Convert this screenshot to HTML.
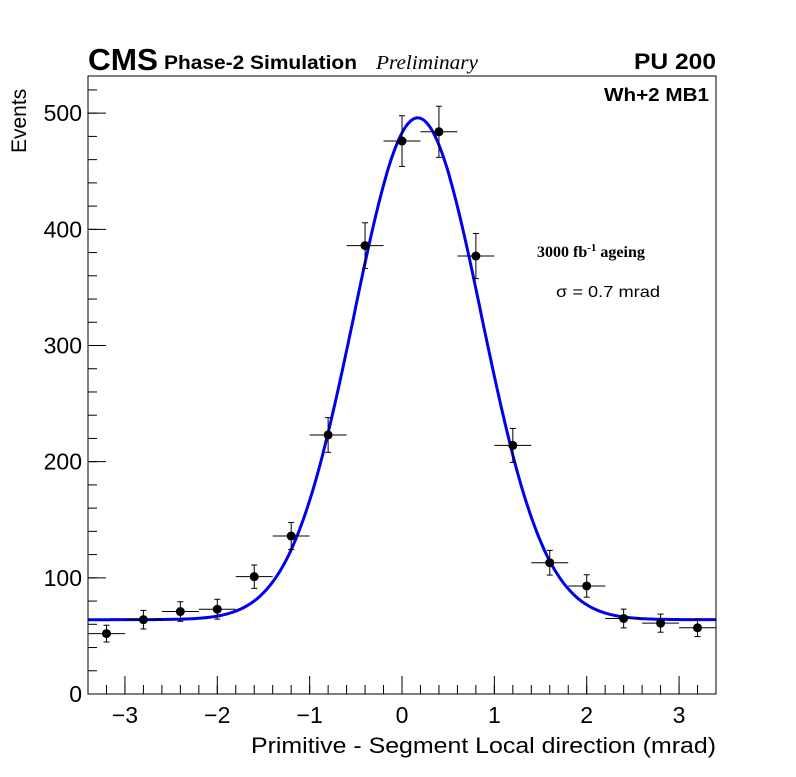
<!DOCTYPE html>
<html><head><meta charset="utf-8"><style>
body{margin:0;background:#fff}
svg text{font-family:"Liberation Sans",sans-serif}
</style></head><body>
<svg id="chart" width="796" height="772" viewBox="0 0 796 772" xmlns="http://www.w3.org/2000/svg">
<rect width="796" height="772" fill="#fff"/>
<g id="axes"></g>
<g id="marks"></g>
<rect x="88" y="76" width="628" height="618" fill="none" stroke="#000" stroke-width="1"/>
<text x="88" y="70" font-size="31" font-weight="bold" textLength="70" lengthAdjust="spacingAndGlyphs">CMS</text>
<text x="164" y="69" font-size="19" font-weight="bold" textLength="193" lengthAdjust="spacingAndGlyphs">Phase-2 Simulation</text>
<text x="376" y="69" font-size="20" font-style="italic" textLength="102" lengthAdjust="spacingAndGlyphs" style="font-family:'Liberation Serif',serif">Preliminary</text>
<text x="716" y="69" font-size="22" font-weight="bold" text-anchor="end" textLength="82" lengthAdjust="spacingAndGlyphs">PU 200</text>
<text x="604" y="101" font-size="18" font-weight="bold" textLength="105" lengthAdjust="spacingAndGlyphs">Wh+2 MB1</text>
<text x="537" y="257" font-size="16" font-weight="bold" style="font-family:'Liberation Serif',serif">3000 fb<tspan dy="-6" font-size="11">-1</tspan><tspan dy="6"> ageing</tspan></text>
<text x="556" y="297" font-size="16" textLength="104" lengthAdjust="spacingAndGlyphs">σ = 0.7 mrad</text>
<text x="251" y="753" font-size="22" textLength="465" lengthAdjust="spacingAndGlyphs">Primitive - Segment Local direction (mrad)</text>
<text transform="translate(26,153) rotate(-90)" font-size="21">Events</text>
</svg>
<script>
const xCenters=[-3.2,-2.8,-2.4,-2.0,-1.6,-1.2,-0.8,-0.4,0,0.4,0.8,1.2,1.6,2.0,2.4,2.8,3.2];
const counts=[52,64,71,73,101,136,223,386,476,484,377,214,113,93,65,61,57];
const xTicks=[-3,-2,-1,0,1,2,3];
const yTicks=[0,100,200,300,400,500];
const fitConst=64, fitAmp=432, fitMean=0.17, fitSigma=0.69;
const binHalf=0.2;
const X0=88,X1=716,Y0=694,Y1=76,xmin=-3.4,xmax=3.4,ymin=0,ymax=532;
const sx=v=>X0+(v-xmin)/(xmax-xmin)*(X1-X0);
const sy=v=>Y0-(v-ymin)/(ymax-ymin)*(Y0-Y1);
const NS="http://www.w3.org/2000/svg";
function mk(t,a,p){const e=document.createElementNS(NS,t);for(const k in a)e.setAttribute(k,a[k]);p.appendChild(e);return e;}
const ax=document.getElementById('axes'),mg=document.getElementById('marks');
xTicks.forEach(t=>{const x=sx(t);
 const l=mk('line',{x1:x,x2:x,y1:Y0,y2:Y0-18,stroke:'#000'},ax);
 
 const tx=mk('text',{x:x,y:Y0+29,'font-size':23,'text-anchor':'middle'},ax);tx.textContent=(t<0?'\u2212'+(-t):t);
 });
for(let t=-3.4;t<=3.4001;t+=0.2){const x=sx(t);mk('line',{x1:x,x2:x,y1:Y0,y2:Y0-9,stroke:'#000'},ax);}
yTicks.forEach(t=>{const y=sy(t);
 const l=mk('line',{x1:X0,x2:X0+18,y1:y,y2:y,stroke:'#000'},ax);
 
 const tx=mk('text',{x:X0-6,y:y+8,'font-size':23,'text-anchor':'end'},ax);tx.textContent=t;
 });
for(let t=0;t<=530;t+=20){const y=sy(t);mk('line',{x1:X0,x2:X0+9,y1:y,y2:y,stroke:'#000'},ax);}
let d='';for(let i=0;i<=300;i++){const v=xmin+i*(xmax-xmin)/300;const f=fitConst+fitAmp*Math.exp(-0.5*((v-fitMean)/fitSigma)**2);d+=(i?'L':'M')+sx(v).toFixed(1)+','+sy(f).toFixed(1);}
const fl=mk('path',{d:d,fill:'none',stroke:'#0000ee','stroke-width':3},mg);

xCenters.forEach((c,i)=>{const v=counts[i],e=Math.sqrt(v);const g=mk('g',{},mg);
 
 mk('line',{x1:sx(c-binHalf),x2:sx(c+binHalf),y1:sy(v),y2:sy(v),stroke:'#000'},g);
 mk('line',{x1:sx(c),x2:sx(c),y1:sy(v-e),y2:sy(v+e),stroke:'#000'},g);
 mk('line',{x1:sx(c)-3,x2:sx(c)+3,y1:sy(v-e),y2:sy(v-e),stroke:'#000'},g);
 mk('line',{x1:sx(c)-3,x2:sx(c)+3,y1:sy(v+e),y2:sy(v+e),stroke:'#000'},g);
 mk('circle',{cx:sx(c),cy:sy(v),r:4.5,fill:'#000'},g);});
</script>
</body></html>
